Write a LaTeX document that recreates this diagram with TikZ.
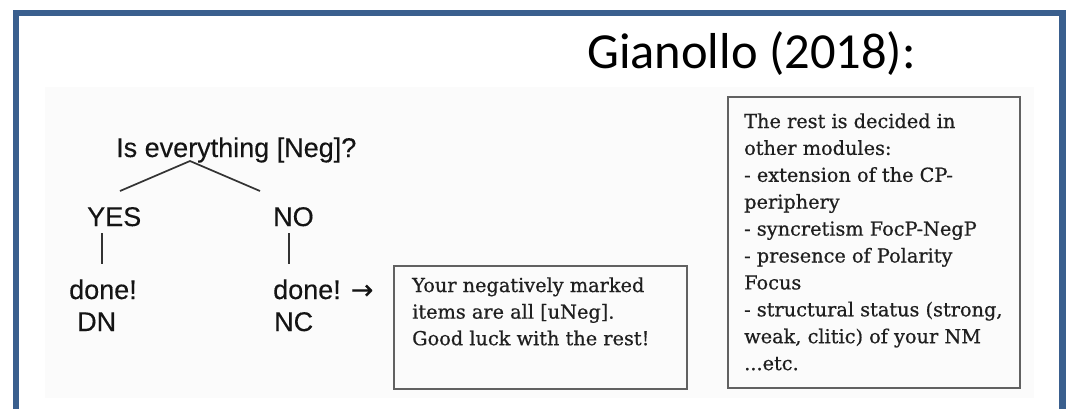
\documentclass[tikz,border=0pt]{standalone}
\usepackage{fontspec}
\setmainfont{Liberation Sans}
\newfontfamily\titlefont{Carlito}
\newfontfamily\boxfont[FakeBold=0.6]{DejaVu Serif}
\newfontfamily\treefont[FakeBold=0.3]{Liberation Sans}
\newfontfamily\arrowfont[FakeBold=0.5]{DejaVu Sans}
\definecolor{framecol}{RGB}{58,95,142}
\definecolor{paper}{RGB}{251,251,251}
\begin{document}
\begin{tikzpicture}[x=1pt,y=-1pt,
  treetxt/.style={anchor=base west,inner sep=0pt,font=\treefont\fontsize{27}{27}\selectfont,text=black!92},
  boxtxt/.style={anchor=base west,inner sep=0pt,font=\boxfont\fontsize{19.3}{19.3}\selectfont,text=black!88},
  boxframe/.style={draw=black!62,line width=1.8pt,anchor=north west,inner sep=0pt},
  branch/.style={draw=black!80,line width=1.7pt},
  slideframe/.style={draw=framecol,line width=6.5pt}]
\useasboundingbox (0,0) rectangle (1068,408);
\fill[paper] (45,87) rectangle (1034,398);
\draw[slideframe] (16,440) -- (16,13) -- (1062.5,13) -- (1062.5,440);
% title
\node[anchor=base west,inner sep=0pt,font=\titlefont\fontsize{50.5}{50.5}\selectfont] (title) at (587,68) {Gianollo (2018):};
% tree
\node[treetxt] (q) at (116,157) {Is everything [Neg]?};
\node[treetxt] (yes) at (87,226) {YES};
\node[treetxt] (no) at (273,226) {NO};
\node[treetxt] (done1) at (69,299) {done!};
\node[treetxt] (dn) at (77,331) {DN};
\node[treetxt] (done2) at (273,299) {done! {\arrowfont →}};
\node[treetxt] (nc) at (274,331) {NC};
\coordinate (apex) at (190,161);
\coordinate (lend) at (120,191);
\coordinate (rend) at (260,191);
\coordinate (ya) at (102,233);
\coordinate (yb) at (102,264);
\coordinate (na) at (289,233);
\coordinate (nb) at (289,264);
\draw[branch] (lend) -- (apex) -- (rend);
\draw[branch] (ya) -- (yb);
\draw[branch] (na) -- (nb);
% boxes
\node[boxframe,minimum width=293pt,minimum height=123pt] (box1) at (393,265) {};
\node[boxframe,minimum width=292pt,minimum height=291pt] (box2) at (727,96) {};
\node[boxtxt] (ba1) at (412,292) {Your negatively marked};
\node[boxtxt] (ba2) at (412,318.6) {items are all [uNeg].};
\node[boxtxt] (ba3) at (412,345.2) {Good luck with the rest!};
\node[boxtxt] (bb1) at (744,128) {The rest is decided in};
\node[boxtxt] (bb2) at (744,154.9) {other modules:};
\node[boxtxt] (bb3) at (744,181.8) {- extension of the CP-};
\node[boxtxt] (bb4) at (744,208.7) {periphery};
\node[boxtxt] (bb5) at (744,235.6) {- syncretism FocP-NegP};
\node[boxtxt] (bb6) at (744,262.5) {- presence of Polarity};
\node[boxtxt] (bb7) at (744,289.4) {Focus};
\node[boxtxt] (bb8) at (744,316.3) {- structural status (strong,};
\node[boxtxt] (bb9) at (744,343.2) {weak, clitic) of your NM};
\node[boxtxt] (bb10) at (744,370.1) {...etc.};
\end{tikzpicture}
\end{document}
